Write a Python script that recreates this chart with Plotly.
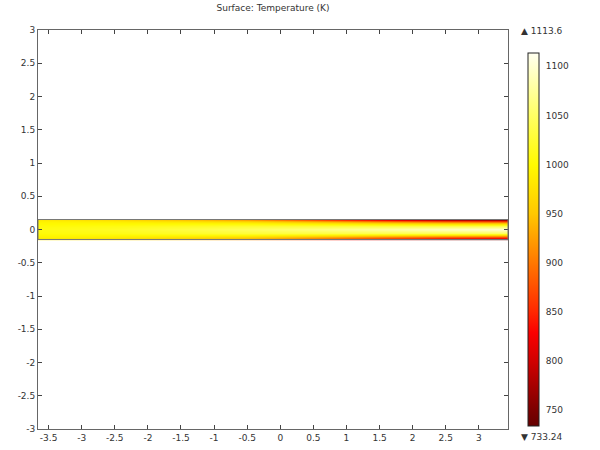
import plotly.graph_objects as go

# Sample stations along the channel (x) and half-height positions (y >= 0)
x_st = [-3.66, -2.5, -1.5, -0.5, 0.5, 1.5, 2.5, 3.44]
y_half = [0.0, 0.05, 0.09, 0.12, 0.14, 0.15]

# Temperature (K) at each station, from centre line (y=0) to wall (y=0.15)
T_m366 = [1008, 1004, 998, 992, 987, 984]
T_m25 = [1018, 1010, 997, 985, 974, 968]
T_m15 = [1032, 1019, 997, 975, 955, 945]
T_m05 = [1047, 1028, 995, 962, 933, 915]
T_p05 = [1062, 1033, 983, 933, 888, 860]
T_p15 = [1077, 1038, 970, 902, 840, 800]
T_p25 = [1092, 1043, 960, 877, 800, 760]
T_p344 = [1102, 1047, 955, 865, 785, 740]

T_min = 733.24
T_max = 1113.6
cbar_ticks = [750, 800, 850, 900, 950, 1000, 1050, 1100]
x_ticks = [-3.5, -3, -2.5, -2, -1.5, -1, -0.5, 0, 0.5, 1, 1.5, 2, 2.5, 3]
x_labels = ["-3.5", "-3", "-2.5", "-2", "-1.5", "-1", "-0.5", "0", "0.5", "1", "1.5", "2", "2.5", "3"]
y_ticks = [-3, -2.5, -2, -1.5, -1, -0.5, 0, 0.5, 1, 1.5, 2, 2.5, 3]
y_labels = ["-3", "-2.5", "-2", "-1.5", "-1", "-0.5", "0", "0.5", "1", "1.5", "2", "2.5", "3"]

profiles = [T_m366, T_m25, T_m15, T_m05, T_p05, T_p15, T_p25, T_p344]

# Symmetric channel: mirror half profile about y = 0
n = len(y_half)
y_full = [-v for v in reversed(y_half[1:])] + y_half
z = []
for j in range(len(y_full)):
    idx = (n - 1 - j) if j < n - 1 else j - (n - 1)
    z.append([p[idx] for p in profiles])

thermal = [
    [0.0, "rgb(100,0,0)"],
    [0.044, "rgb(125,0,0)"],
    [0.176, "rgb(210,0,0)"],
    [0.25, "rgb(250,0,0)"],
    [0.307, "rgb(255,40,0)"],
    [0.438, "rgb(255,120,0)"],
    [0.57, "rgb(255,200,0)"],
    [0.70, "rgb(255,250,0)"],
    [0.833, "rgb(255,255,100)"],
    [0.964, "rgb(255,255,210)"],
    [1.0, "rgb(255,255,240)"],
]

font = dict(family="DejaVu Sans", size=9, color="#333")

fig = go.Figure()
fig.add_trace(go.Heatmap(
    x=x_st, y=y_full, z=z,
    zmin=T_min, zmax=T_max,
    zsmooth="best",
    colorscale=thermal,
    showscale=True,
    colorbar=dict(
        x=1.0426, xanchor="left", xpad=0,
        y=0.475, yanchor="middle", ypad=0,
        len=373, lenmode="pixels",
        thickness=11, thicknessmode="pixels",
        outlinecolor="#222", outlinewidth=1,
        tickvals=cbar_ticks,
        ticks="outside", ticklen=5, tickcolor="rgba(0,0,0,0)",
        tickfont=font,
    ),
))

fig.add_shape(type="rect", xref="x", yref="y",
              x0=min(x_st), x1=max(x_st), y0=min(y_full), y1=max(y_full),
              line=dict(color="#777", width=1))

axis_common = dict(
    showgrid=False, zeroline=False,
    showline=True, linecolor="#666", linewidth=1,
    mirror="ticks", ticks="inside", ticklen=4, tickcolor="#444",
    tickfont=font,
)

fig.update_layout(
    width=600, height=450,
    margin=dict(l=38, r=92, t=30, b=21, autoexpand=False),
    paper_bgcolor="white", plot_bgcolor="white",
    font=font,
    title=dict(text="Surface: Temperature (K)", x=0.5, xref="paper",
               y=0.982, yanchor="middle", font=dict(family="DejaVu Sans", size=9, color="#333")),
    xaxis=dict(range=[-3.66, 3.44], tickvals=x_ticks, ticktext=x_labels, **axis_common),
    yaxis=dict(range=[-3, 3], tickvals=y_ticks, ticktext=y_labels, **axis_common),
    annotations=[
        dict(text="▲ " + "1113.6", x=1.0234, y=0.9975, xref="paper", yref="paper",
             xanchor="left", yanchor="middle", showarrow=False, font=font),
        dict(text="▼ " + "733.24", x=1.0234, y=-0.02, xref="paper", yref="paper",
             xanchor="left", yanchor="middle", showarrow=False, font=font),
    ],
)

fig.write_html("out.html", config={"displayModeBar": False},
               post_script="document.body.style.margin='0px';")
